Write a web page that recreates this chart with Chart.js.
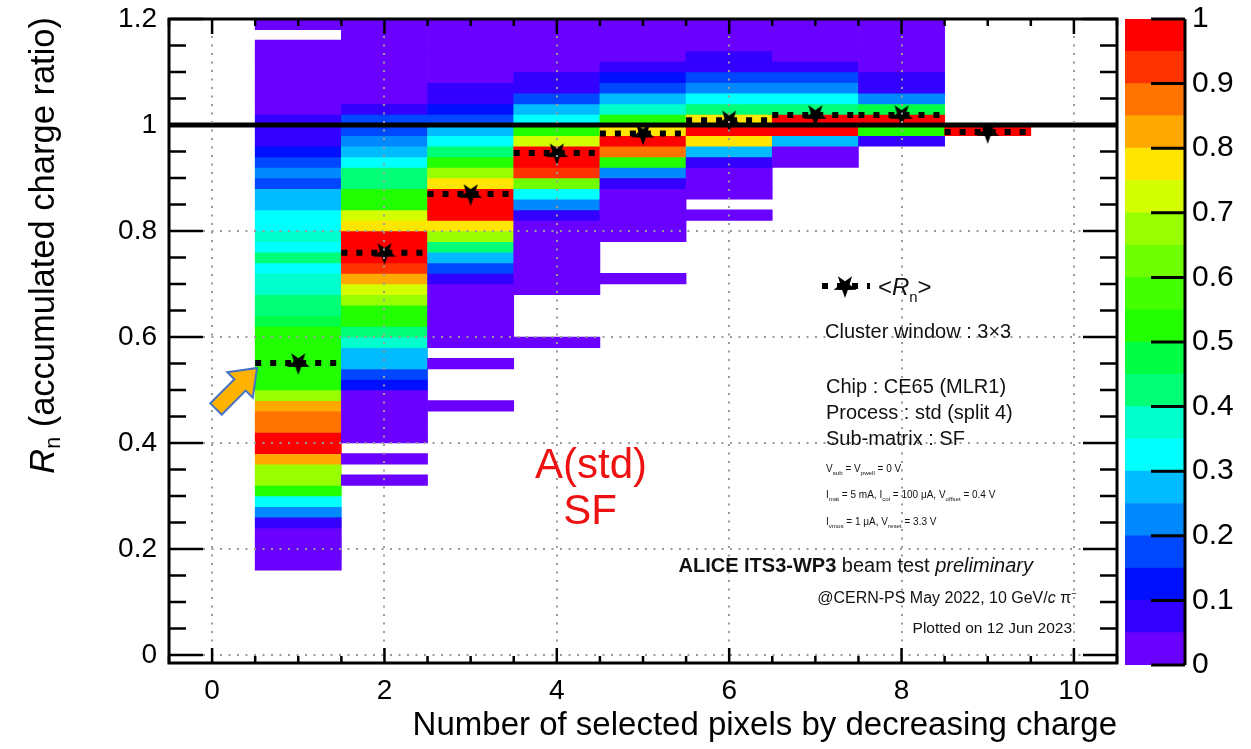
<!DOCTYPE html>
<html>
<head>
<meta charset="utf-8">
<title>Rn vs number of pixels</title>
<script src="https://cdn.jsdelivr.net/npm/chart.js@4.4.1/dist/chart.umd.min.js"></script>
<style>
    html, body { margin: 0; padding: 0; background: #fff; }
    #wrap { position: relative; width: 1251px; height: 749px; overflow: hidden; }
    #main { position: absolute; left: 0; top: 0; width: 1251px; height: 749px; }
    #cbar { position: absolute; left: 1100px; top: 0; width: 151px; height: 749px; }
</style>
</head>
<body>
<div id="wrap">
    <canvas id="main" width="1251" height="749"></canvas>
    <canvas id="cbar" width="151" height="749"></canvas>
</div>
<script>
// number of selected pixels (x bins) and mean accumulated charge ratio
var nPixels = [1, 2, 3, 4, 5, 6, 7, 8, 9];
var meanRn = [0.551, 0.759, 0.870, 0.947, 0.984, 1.009, 1.019, 1.019, 0.987];

// R_n bins: width and lower edge of the first filled bin of each column
var binWidth = 0.02;
var colStart = [0.16, 0.32, 0.46, 0.58, 0.70, 0.82, 0.92, 0.96, 0.98];

// normalised bin content going up from colStart (null = empty bin)
var rnCol1 = [0.02, 0.02, 0.03, 0.04, 0.08, 0.22, 0.33, 0.52, 0.66, 0.67,
    0.82, 0.97, 0.99, 0.87, 0.88, 0.83, 0.68, 0.54, 0.53, 0.54,
    0.53, 0.52, 0.51, 0.48, 0.43, 0.42, 0.37, 0.38, 0.33, 0.42,
    0.33, 0.37, 0.32, 0.31, 0.27, 0.28, 0.18, 0.22, 0.17, 0.12,
    0.07, 0.07, 0.06, 0.04, 0.03, 0.03, 0.02, 0.02, 0.02, 0.01,
    null, 0.01];
var rnCol2 = [0.02, null, 0.02, null, 0.03, 0.03, 0.04, 0.04, 0.04, 0.12,
    0.17, 0.27, 0.28, 0.37, 0.42, 0.52, 0.53, 0.67, 0.72, 0.82,
    0.92, 0.98, 1.00, 0.97, 0.77, 0.72, 0.52, 0.53, 0.43, 0.41,
    0.32, 0.27, 0.22, 0.17, 0.16, 0.07, 0.03, 0.02, 0.02, 0.02,
    0.02, 0.01, 0.01, 0.01];
var rnCol3 = [0.02, null, null, null, 0.02, null, 0.02, 0.02, 0.03, 0.03,
    0.04, 0.04, 0.07, 0.17, 0.27, 0.41, 0.67, 0.77, 0.97, 1.00,
    0.98, 0.78, 0.67, 0.52, 0.41, 0.32, 0.27, 0.17, 0.12, 0.07,
    0.07, 0.03, 0.02, 0.02, 0.02, 0.01, 0.01];
var rnCol4 = [0.02, null, null, null, null, 0.02, 0.02, 0.02, 0.03, 0.03,
    0.04, 0.04, 0.07, 0.22, 0.32, 0.62, 0.92, 0.97, 1.00, 0.72,
    0.52, 0.32, 0.27, 0.17, 0.07, 0.07, 0.03, 0.02, 0.02, 0.01, 0.01];
var rnCol5 = [0.02, null, null, null, 0.02, 0.02, 0.03, 0.03, 0.04, 0.07,
    0.22, 0.52, 0.87, 1.00, 0.77, 0.52, 0.37, 0.27, 0.17, 0.12,
    0.07, 0.03, 0.02, 0.02, 0.01];
var rnCol6 = [0.02, null, 0.02, 0.02, 0.03, 0.07, 0.27, 0.77, 1.00, 0.78,
    0.42, 0.32, 0.22, 0.17, 0.07, 0.07, 0.03, 0.02, 0.01];
var rnCol7 = [0.02, 0.03, 0.27, 1.00, 0.98, 0.42, 0.32, 0.22, 0.17, 0.07,
    0.03, 0.02, 0.02, 0.01];
var rnCol8 = [0.06, 0.50, 1.00, 0.48, 0.22, 0.07, 0.07, 0.03, 0.02, 0.02,
    0.02, 0.01];
var rnCol9 = [1.00];

// colour scale: contour levels and their colours
var contourLevels = [0, 0.05, 0.1, 0.15, 0.2, 0.25, 0.3, 0.35, 0.4, 0.45, 0.5,
    0.55, 0.6, 0.65, 0.7, 0.75, 0.8, 0.85, 0.9, 0.95, 1];
var paletteColors = ["#6a00ff", "#3300ff", "#0010ff", "#0048ff", "#0088ff",
    "#00bbff", "#00ffff", "#00ffcc", "#00ff77", "#00ff44",
    "#22ff00", "#44ff00", "#70ff00", "#99ff00", "#d4ff00",
    "#ffe600", "#ffa800", "#ff7400", "#ff3300", "#ff0000"];

var FONT = '"Liberation Sans", Arial, Helvetica, sans-serif';

function colourFor(v) {
    var idx = 0;
    for (var i = 0; i < paletteColors.length; i++) {
        if (v >= contourLevels[i]) idx = i;
    }
    return paletteColors[idx];
}

// ROOT style labels: 1 instead of 1.0
function plainLabel(value) {
    return String(parseFloat(Number(value).toFixed(3)));
}

// build the 2D histogram cells as floating bars
var columns = [rnCol1, rnCol2, rnCol3, rnCol4, rnCol5, rnCol6, rnCol7, rnCol8, rnCol9];
var cells = [];
columns.forEach(function (col, c) {
    col.forEach(function (v, i) {
        if (v === null) return;
        var lo = colStart[c] + i * binWidth;
        cells.push({ x: nPixels[c], y: [lo, lo + binWidth], v: v });
    });
});

// mean markers: dotted segment across each column + star in its centre
var meanSegments = [];
var meanPoints = [];
nPixels.forEach(function (n, i) {
    meanSegments.push({ x: n - 0.5, y: meanRn[i] });
    meanSegments.push({ x: n + 0.5, y: meanRn[i] });
    meanSegments.push({ x: n + 0.5, y: null });
    meanPoints.push({ x: n, y: meanRn[i] });
});

function makeStar(size) {
    var c = document.createElement("canvas");
    c.width = size;
    c.height = size;
    var g = c.getContext("2d");
    var R = size / 2, r = R * 0.4;
    g.beginPath();
    for (var i = 0; i < 10; i++) {
        var ang = Math.PI / 2 + i * Math.PI / 5;
        var rad = i % 2 === 0 ? R : r;
        g.lineTo(R + rad * Math.cos(ang), R + rad * Math.sin(ang));
    }
    g.closePath();
    g.fillStyle = "#000";
    g.fill();
    return c;
}
var star = makeStar(24);

// text with sub-/superscripts, bold and italic pieces
function partFont(style, size) {
    var s = (style === "sub" || style === "sup") ? size * 0.62 : size;
    var pre = style === "b" ? "bold " : (style === "i" ? "italic " : "");
    return pre + s + "px " + FONT;
}
function richWidth(ctx, parts, size) {
    var w = 0;
    parts.forEach(function (p) {
        ctx.font = partFont(p[1], size);
        w += ctx.measureText(p[0]).width;
    });
    return w;
}
function drawRich(ctx, parts, x, y, size) {
    parts.forEach(function (p) {
        ctx.font = partFont(p[1], size);
        var dy = p[1] === "sub" ? size * 0.28 : (p[1] === "sup" ? -size * 0.4 : 0);
        ctx.fillText(p[0], x, y + dy);
        x += ctx.measureText(p[0]).width;
    });
}

var frameTicks = {
    id: "frameTicks",
    afterDraw: function (chart) {
        var ctx = chart.ctx, a = chart.chartArea;
        var xs = chart.scales.x, ys = chart.scales.y;
        ctx.save();
        ctx.strokeStyle = "#000";
        ctx.lineWidth = 2.5;
        ctx.beginPath();
        // x ticks: major on labels, 4 divisions
        for (var i = 0; i < xs.ticks.length; i++) {
            var v = xs.ticks[i].value;
            for (var k = -3; k < 4; k++) {
                var xv = v + k * 0.5;
                if (xv < xs.min || xv > xs.max) continue;
                if (k < 0 && i > 0) continue;
                var px = xs.getPixelForValue(xv);
                var len = k === 0 ? 15 : 7;
                ctx.moveTo(px, a.bottom); ctx.lineTo(px, a.bottom - len);
                ctx.moveTo(px, a.top); ctx.lineTo(px, a.top + len);
            }
        }
        // y ticks
        for (var j = 0; j < ys.ticks.length; j++) {
            var w = ys.ticks[j].value;
            for (var m = 0; m < 4; m++) {
                var yv = w + m * 0.05;
                if (yv > ys.max + 1e-9) continue;
                var py = ys.getPixelForValue(yv);
                var len2 = m === 0 ? 34 : 17;
                ctx.moveTo(a.left, py); ctx.lineTo(a.left + len2, py);
                ctx.moveTo(a.right, py); ctx.lineTo(a.right - len2, py);
            }
        }
        ctx.stroke();
        ctx.lineWidth = 3;
        ctx.strokeRect(a.left, a.top, a.right - a.left, a.bottom - a.top);

        // y title
        ctx.save();
        ctx.translate(44, 17);
        ctx.rotate(-Math.PI / 2);
        ctx.fillStyle = "#000";
        ctx.textBaseline = "middle";
        var yt = [["R", "i"], ["n", "sub"], [" (accumulated charge ratio)", ""]];
        drawRich(ctx, yt, -richWidth(ctx, yt, 34.5), 0, 34.5);
        ctx.restore();

        // legend
        ctx.save();
        ctx.setLineDash([6, 9]);
        ctx.lineWidth = 6;
        ctx.beginPath();
        ctx.moveTo(822, 286);
        ctx.lineTo(870, 286);
        ctx.stroke();
        ctx.restore();
        ctx.drawImage(star, 845 - 12, 286 - 12);
        ctx.fillStyle = "#111";
        ctx.textBaseline = "alphabetic";
        drawRich(ctx, [["<", ""], ["R", "i"], ["n", "sub"], [">", ""]], 878, 295, 24);

        // info block
        ctx.font = "20px " + FONT;
        ctx.fillText("Cluster window : 3\u00d73", 825, 338);
        ctx.fillText("Chip : CE65 (MLR1)", 826, 393);
        ctx.fillText("Process : std (split 4)", 826, 419);
        ctx.fillText("Sub-matrix : SF", 826, 445);
        drawRich(ctx, [["V", ""], ["sub", "sub"], [" = V", ""], ["pwell", "sub"], [" = 0 V", ""]], 826, 472, 10);
        drawRich(ctx, [["I", ""], ["mat", "sub"], [" = 5 mA, I", ""], ["col", "sub"], [" = 100 \u03bcA, V", ""],
            ["offset", "sub"], [" = 0.4 V", ""]], 826, 498, 10);
        drawRich(ctx, [["I", ""], ["vmos", "sub"], [" = 1 \u03bcA, V", ""], ["reset", "sub"], [" = 3.3 V", ""]], 826, 525, 10);

        var alice = [["ALICE ITS3-WP3", "b"], [" beam test ", ""], ["preliminary", "i"]];
        drawRich(ctx, alice, 1033 - richWidth(ctx, alice, 20), 572, 20);
        var cern = [["@CERN-PS May 2022, 10 GeV/", ""], ["c", "i"], [" \u03c0", ""], ["\u2212", "sup"]];
        drawRich(ctx, cern, 1077 - richWidth(ctx, cern, 16), 603, 16);
        ctx.font = "15.5px " + FONT;
        ctx.textAlign = "right";
        ctx.fillText("Plotted on 12 Jun 2023", 1072, 633);

        // red overlay label
        ctx.textAlign = "center";
        ctx.fillStyle = "#ee1111";
        ctx.font = "42px " + FONT;
        ctx.fillText("A(std)", 591, 478);
        ctx.fillText("SF", 590, 524);

        // orange arrow pointing at column 1
        var tip = [257, 368], u = [Math.SQRT1_2, -Math.SQRT1_2], nn = [Math.SQRT1_2, Math.SQRT1_2];
        function pt(back, side) {
            return [tip[0] - back * u[0] + side * nn[0], tip[1] - back * u[1] + side * nn[1]];
        }
        var poly = [pt(58, 8), pt(24, 8), pt(24, 18), pt(0, 0), pt(24, -18), pt(24, -8), pt(58, -8)];
        ctx.beginPath();
        poly.forEach(function (p, i) { if (i === 0) ctx.moveTo(p[0], p[1]); else ctx.lineTo(p[0], p[1]); });
        ctx.closePath();
        ctx.fillStyle = "#ffb300";
        ctx.fill();
        ctx.lineWidth = 2;
        ctx.strokeStyle = "#4472c4";
        ctx.stroke();
        ctx.restore();
    }
};

function gridColour(ctx) {
    // the y = 1 reference line hides the grid line there
    return ctx.tick && ctx.tick.value === 1 ? "rgba(0,0,0,0)" : "#9a9a9a";
}

new Chart(document.getElementById("main"), {
    type: "bar",
    data: {
        datasets: [
            {
                type: "line",
                data: meanPoints,
                showLine: false,
                pointStyle: star,
                pointRadius: 5,
                order: 0
            },
            {
                type: "line",
                data: meanSegments,
                borderColor: "#000",
                borderWidth: 6,
                borderDash: [6, 9],
                borderCapStyle: "butt",
                pointRadius: 0,
                spanGaps: false,
                order: 1
            },
            {
                type: "line",
                data: [{ x: -0.5, y: 1 }, { x: 10.5, y: 1 }],
                borderColor: "#000",
                borderWidth: 5,
                pointRadius: 0,
                order: 2
            },
            {
                data: cells,
                backgroundColor: function (ctx) {
                    return ctx.raw ? colourFor(ctx.raw.v) : "#fff";
                },
                borderWidth: 0,
                categoryPercentage: 1,
                barPercentage: 1,
                order: 3
            }
        ]
    },
    options: {
        responsive: false,
        animation: false,
        layout: { padding: { left: 0, top: 19, right: 134, bottom: 0 } },
        plugins: {
            legend: { display: false },
            tooltip: { enabled: false }
        },
        scales: {
            x: {
                type: "linear",
                min: -0.5,
                max: 10.5,
                offset: false,
                afterFit: function (s) {
                    s.height = 86;
                    s.paddingLeft = 0;
                    s.paddingRight = 0;
                },
                grid: { offset: false, color: "#9a9a9a", lineWidth: 2, drawTicks: false, z: 1 },
                border: { display: false, dash: [2, 6.5] },
                ticks: {
                    stepSize: 2,
                    includeBounds: false,
                    autoSkip: false,
                    maxRotation: 0,
                    padding: 11,
                    color: "#000",
                    font: { family: FONT, size: 28 },
                    callback: plainLabel
                },
                title: {
                    display: true,
                    text: "Number of selected pixels by decreasing charge",
                    align: "end",
                    color: "#000",
                    font: { family: FONT, size: 33, lineHeight: 1.2 },
                    padding: { top: 0, bottom: 3 }
                }
            },
            y: {
                min: -0.015,
                max: 1.2,
                afterFit: function (s) {
                    s.width = 169;
                    s.paddingTop = 0;
                    s.paddingBottom = 0;
                },
                grid: { color: gridColour, lineWidth: 2, drawTicks: false, z: 1 },
                border: { display: false, dash: [2, 6.5] },
                ticks: {
                    stepSize: 0.2,
                    includeBounds: false,
                    padding: 12,
                    color: "#000",
                    font: { family: FONT, size: 28 },
                    callback: plainLabel
                }
            }
        }
    },
    plugins: [frameTicks]
});

// colour bar
var cbarTicks = {
    id: "cbarTicks",
    afterDraw: function (chart) {
        var ctx = chart.ctx, a = chart.chartArea, ys = chart.scales.y;
        ctx.save();
        ctx.strokeStyle = "#000";
        ctx.lineWidth = 3;
        ctx.beginPath();
        ctx.moveTo(a.right, a.top);
        ctx.lineTo(a.right, a.bottom);
        ys.ticks.forEach(function (t) {
            var py = ys.getPixelForValue(t.value);
            ctx.moveTo(a.right - 34, py);
            ctx.lineTo(a.right, py);
        });
        ctx.stroke();
        ctx.restore();
    }
};

new Chart(document.getElementById("cbar"), {
    type: "bar",
    data: {
        labels: [""],
        datasets: paletteColors.map(function (c, i) {
            return {
                data: [[contourLevels[i], contourLevels[i + 1]]],
                backgroundColor: c,
                borderWidth: 0,
                grouped: false,
                categoryPercentage: 1,
                barPercentage: 1
            };
        })
    },
    options: {
        responsive: false,
        animation: false,
        layout: { padding: { left: 25, top: 19, right: 0, bottom: 84 } },
        plugins: {
            legend: { display: false },
            tooltip: { enabled: false }
        },
        scales: {
            x: { display: false },
            y: {
                position: "right",
                min: 0,
                max: 1,
                afterFit: function (s) {
                    s.width = 66;
                    s.paddingTop = 0;
                    s.paddingBottom = 0;
                },
                grid: { display: false, drawTicks: false },
                border: { display: false },
                ticks: {
                    stepSize: 0.1,
                    padding: 7,
                    color: "#000",
                    font: { family: FONT, size: 30 },
                    callback: plainLabel
                }
            }
        }
    },
    plugins: [cbarTicks]
});
</script>
</body>
</html>
